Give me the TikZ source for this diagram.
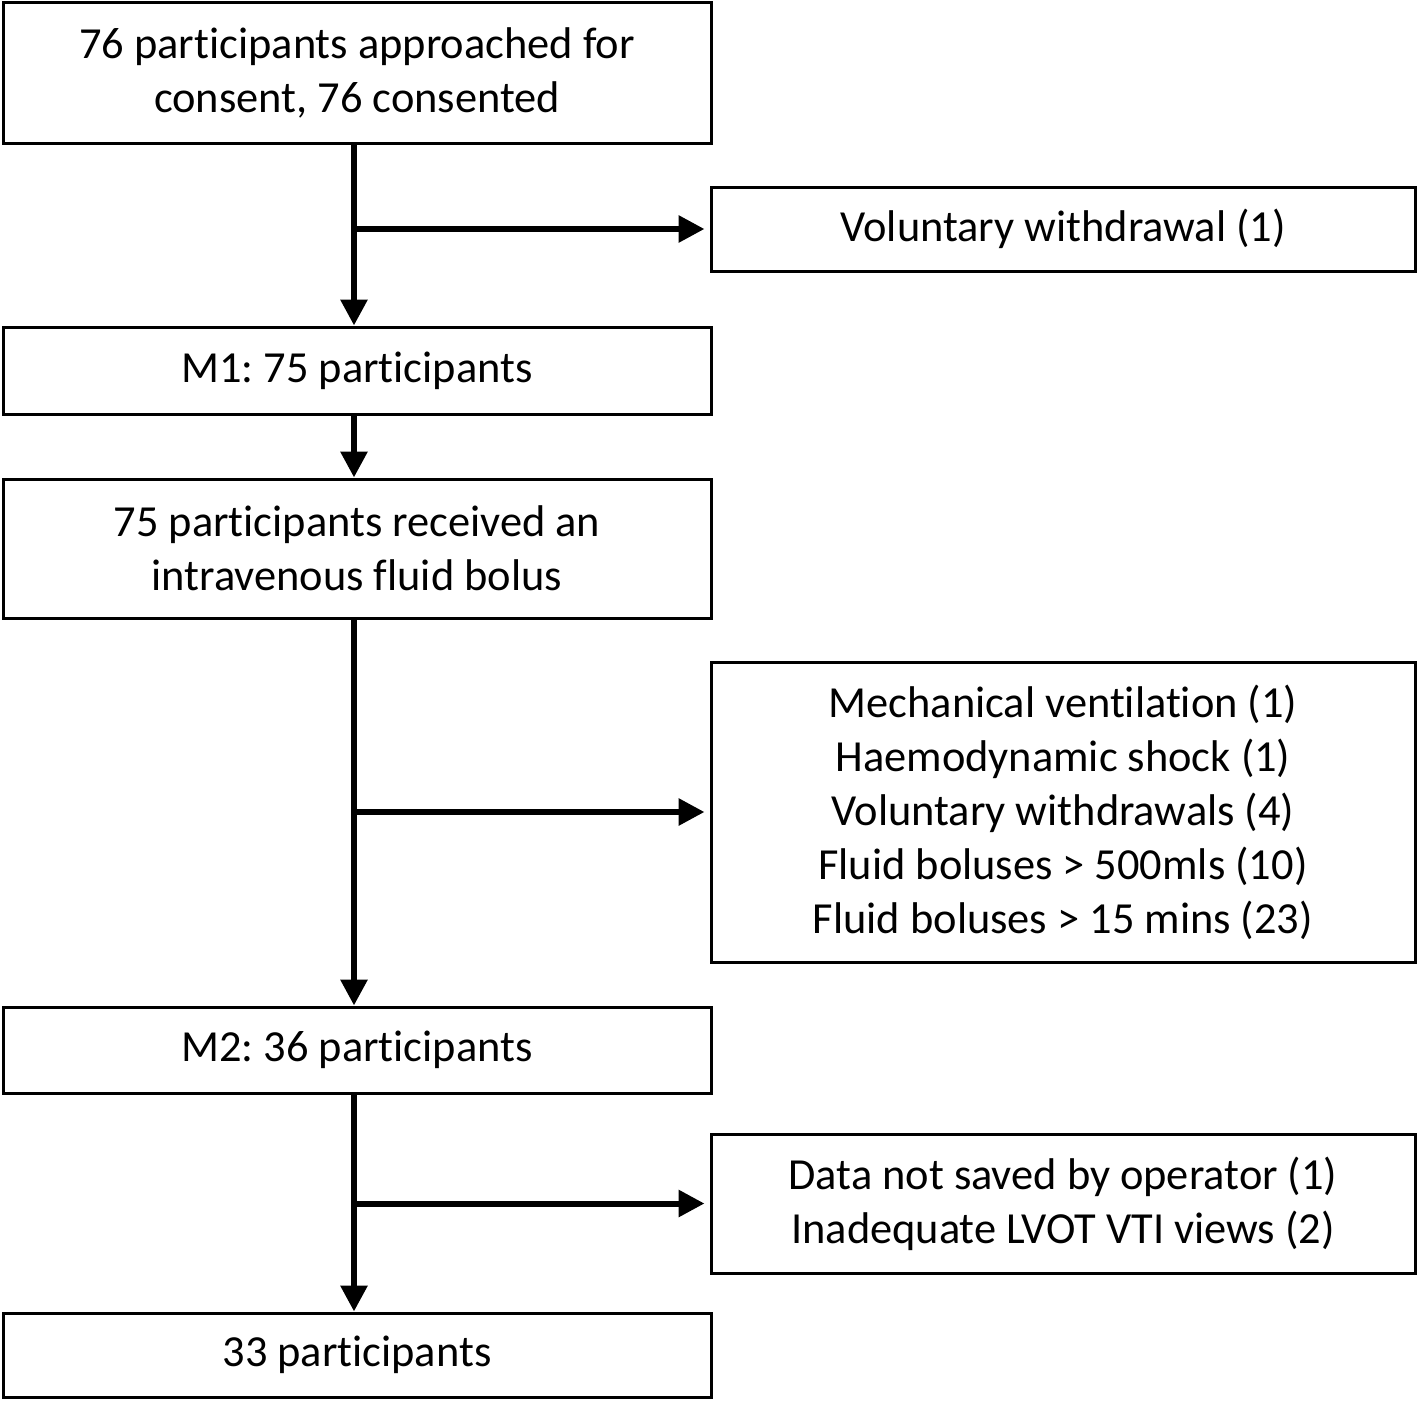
\documentclass[tikz,border=0pt]{standalone}
\usepackage{fontspec}
\setmainfont{Carlito}[Ligatures=NoCommon]
\usepackage{tikz}
\usetikzlibrary{arrows.meta}
\usetikzlibrary{positioning}
\frenchspacing

\begin{document}
\begin{tikzpicture}[x=1pt, y=1pt]
\tikzset{font=\fontsize{22.2}{27}\selectfont}
\tikzset{stagebox/.style={draw, line width=1.5pt, align=center, minimum width=354pt, inner sep=0pt}}
\tikzset{dropbox/.style={draw, line width=1.5pt, align=center, minimum width=352pt, inner sep=0pt}}
\tikzset{flow/.style={line width=3pt, -{Triangle[length=13pt, width=13pt]}}}
\useasboundingbox (0,0) rectangle (709,-701);
% main column
\node[stagebox, minimum height=70pt] (approached) at (178.5,-36.5) {76 participants approached for\\consent, 76 consented};
\node[stagebox, minimum height=43.5pt] (mone) at (178.5,-185.25) {M1: 75 participants};
\node[stagebox, minimum height=69.5pt] (bolus) at (178.5,-274.25) {75 participants received an\\intravenous fluid bolus};
\node[stagebox, minimum height=43pt] (mtwo) at (178.5,-525) {M2: 36 participants};
\node[stagebox, minimum height=42pt] (final) at (178.5,-677.5) {33 participants};
% exclusions
\node[dropbox, minimum height=42pt] (dropone) at (531.5,-114.5) {Voluntary withdrawal (1)};
\node[dropbox, minimum height=150pt] (droptwo) at (531.5,-406) {Mechanical ventilation (1)\\Haemodynamic shock (1)\\Voluntary withdrawals (4)\\Fluid boluses > 500mls (10)\\Fluid boluses > 15 mins (23)};
\node[dropbox, minimum height=69.5pt] (dropthree) at (531.5,-601.75) {Data not saved by operator (1)\\Inadequate LVOT VTI views (2)};
% arrows
\coordinate (jone) at ([xshift=-1.5pt]approached.south |- dropone.west);
\coordinate (jtwo) at ([xshift=-1.5pt]bolus.south |- droptwo.west);
\coordinate (jthree) at ([xshift=-1.5pt]mtwo.south |- dropthree.west);
\draw[flow] ([xshift=-1.5pt]approached.south) -- ([xshift=-1.5pt]mone.north);
\draw[flow] ([xshift=-1.5pt]mone.south) -- ([xshift=-1.5pt]bolus.north);
\draw[flow] ([xshift=-1.5pt]bolus.south) -- ([xshift=-1.5pt]mtwo.north);
\draw[flow] ([xshift=-1.5pt]mtwo.south) -- ([xshift=-1.5pt]final.north);
\draw[flow, shorten >=2.5pt] (jone) -- (dropone.west);
\draw[flow, shorten >=2.5pt] (jtwo) -- (droptwo.west);
\draw[flow, shorten >=2.5pt] (jthree) -- (dropthree.west);
\end{tikzpicture}
\end{document}
